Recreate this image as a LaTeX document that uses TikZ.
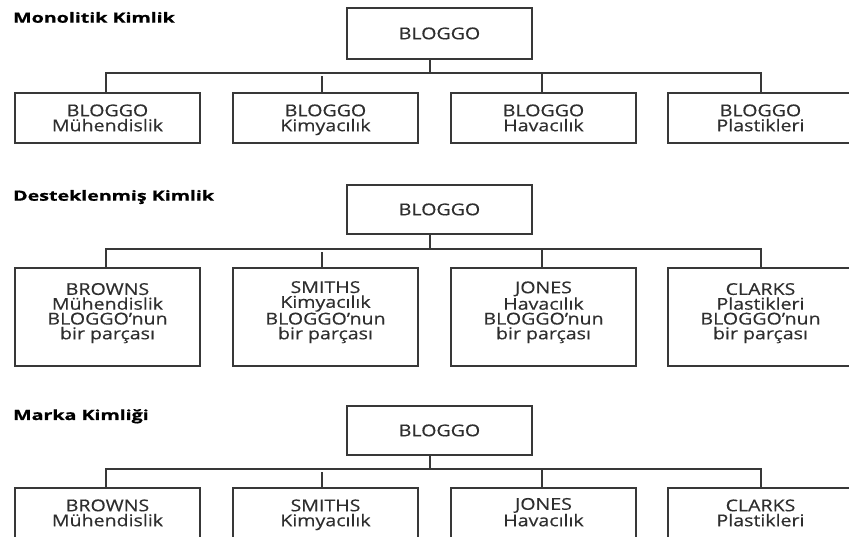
\documentclass[tikz,border=0pt]{standalone}
\usepackage{fontspec}
\setmainfont{Open Sans}
\newfontfamily\boxfont[FakeStretch=1.2,FakeBold=0.35]{Open Sans}
\newfontfamily\headfont[FakeStretch=1.4,FakeBold=0.8]{Open Sans}
\definecolor{ink}{HTML}{2E2E2E}
\definecolor{rule}{HTML}{383838}
\tikzset{
  box/.style={draw=rule, line width=1.5pt, minimum width=185pt, minimum height=50pt,
    inner sep=0pt, align=center, text=ink, fill=white,
    text height=26.5pt, text depth=0pt,
    font=\boxfont\fontsize{16.3}{15}\selectfont},
  single/.style={text height=11.5pt, text depth=0pt},
  strongbox/.style={box, line width=2.8pt, minimum height=98pt,
    text height=56pt, text depth=11.4pt,
    font=\boxfont\fontsize{16.3}{14.8}\selectfont},
  heading/.style={anchor=base west, inner sep=0pt, text=black,
    font=\headfont\bfseries\fontsize{14}{16}\selectfont},
  link/.style={draw=rule, line width=1.5pt},
}
\begin{document}
\begin{tikzpicture}[x=1pt, y=1pt]
\useasboundingbox (0,0) rectangle (849,537);
\clip (0,0) rectangle (849,537);
\fill[white] (0,0) rectangle (849,537);

% ---------- Monolitik Kimlik ----------
\node[heading] (mh) at (13,514.3) {Monolitik Kimlik};
\node[box, single, minimum height=51pt] (m0) at (439.5,503.5) {BLOGGO};
\node[box] (m1) at (107.5,419) {BLOGGO\\Mühendislik};
\node[box] (m2) at (325.5,419) {BLOGGO\\Kimyacılık};
\node[box] (m3) at (543.5,419) {BLOGGO\\Havacılık};
\node[box] (m4) at (760.5,419) {BLOGGO\\Plastikleri};
\coordinate (mt) at (430,464);
\coordinate (mb1) at (106,464);
\coordinate (mb4) at (761,464);
\coordinate (mb2) at (322,460.5);
\coordinate (mb3) at (542,464);
\draw[link] (m0.south -| mt) -- (mt);
\draw[link] (m1.north -| mb1) -- (mb1) -- (mb4) -- (m4.north -| mb4);
\draw[link] (m2.north -| mb2) -- (mb2);
\draw[link] (m3.north -| mb3) -- (mb3);

% ---------- Desteklenmiş Kimlik ----------
\node[heading] (dh) at (13,336.3) {Desteklenmiş Kimlik};
\node[box, single, minimum height=49pt] (d0) at (439.5,327.5) {BLOGGO};
\node[strongbox] (d1) at (107.5,220) {BROWNS\\Mühendislik\\BLOGGO’nun\\bir parçası};
\node[strongbox] (d2) at (325.5,220) {SMITHS\\Kimyacılık\\BLOGGO’nun\\bir parçası};
\node[strongbox] (d3) at (543.5,220) {JONES\\Havacılık\\BLOGGO’nun\\bir parçası};
\node[strongbox] (d4) at (760.5,220) {CLARKS\\Plastikleri\\BLOGGO’nun\\bir parçası};
\coordinate (dt) at (430,288);
\coordinate (db1) at (106,288);
\coordinate (db4) at (761,288);
\coordinate (db2) at (322,284.5);
\coordinate (db3) at (542,288);
\draw[link] (d0.south -| dt) -- (dt);
\draw[link] (d1.north -| db1) -- (db1) -- (db4) -- (d4.north -| db4);
\draw[link] (d2.north -| db2) -- (db2);
\draw[link] (d3.north -| db3) -- (db3);

% ---------- Marka Kimliği ----------
\node[heading] (kh) at (13,117) {Marka Kimliği};
\node[box, single, minimum height=49pt] (k0) at (439.5,106.5) {BLOGGO};
\node[box] (k1) at (107.5,24) {BROWNS\\Mühendislik};
\node[box] (k2) at (325.5,24) {SMITHS\\Kimyacılık};
\node[box] (k3) at (543.5,24) {JONES\\Havacılık};
\node[box] (k4) at (760.5,24) {CLARKS\\Plastikleri};
\coordinate (kt) at (430,68);
\coordinate (kb1) at (106,68);
\coordinate (kb4) at (761,68);
\coordinate (kb2) at (322,64.5);
\coordinate (kb3) at (542,68);
\draw[link] (k0.south -| kt) -- (kt);
\draw[link] (k1.north -| kb1) -- (kb1) -- (kb4) -- (k4.north -| kb4);
\draw[link] (k2.north -| kb2) -- (kb2);
\draw[link] (k3.north -| kb3) -- (kb3);
\end{tikzpicture}
\end{document}
